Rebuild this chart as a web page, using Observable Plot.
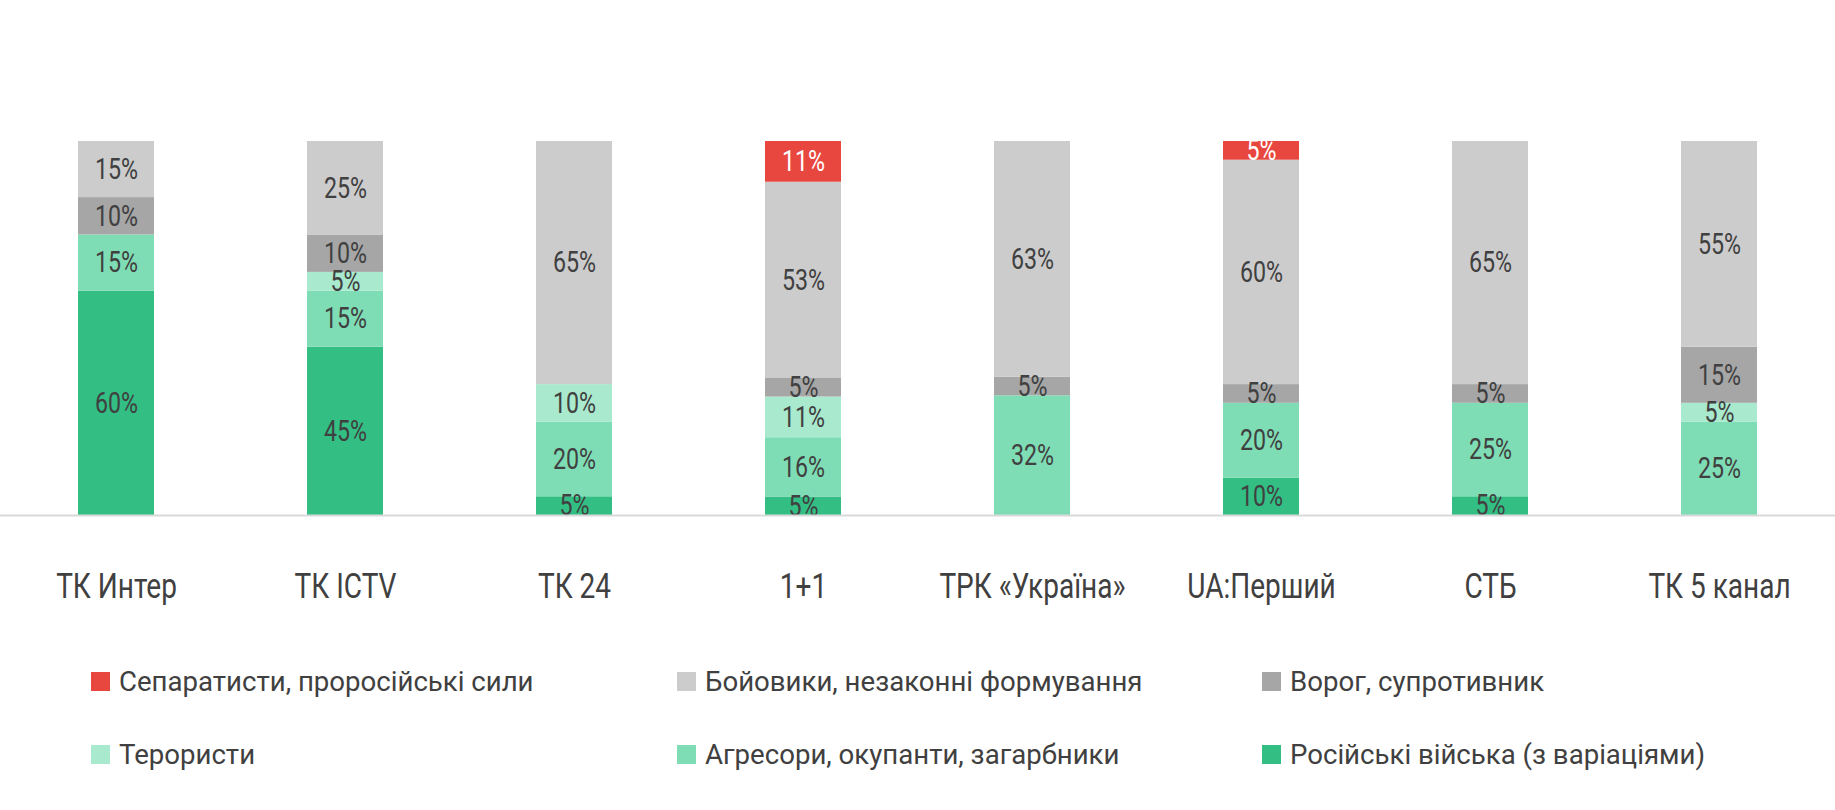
<!DOCTYPE html>
<html><head><meta charset="utf-8">
<script src="https://cdn.jsdelivr.net/npm/d3@7"></script>
<script src="https://cdn.jsdelivr.net/npm/@observablehq/plot@0.6"></script>
<style>
body{margin:0;background:#fff;font-family:Roboto,sans-serif;}
#chart svg{display:block;}
#legend{display:grid;grid-template-columns:586px 585px 573px;padding-left:91px;row-gap:39px;margin-top:45px;font-size:27.6px;line-height:34px;color:#404040;}
.item{white-space:nowrap;}
.sw{display:inline-block;width:19px;height:19px;margin-right:9px;}
</style></head><body>
<div id="chart"></div><div id="legend"></div>
<script>
const channels = ["ТК Интер","ТК ICTV","ТК 24","1+1","ТРК «Україна»","UA:Перший","СТБ","ТК 5 канал"];
// series, bottom to top of each bar
const series = [
  "Російські війська (з варіаціями)",
  "Агресори, окупанти, загарбники",
  "Терористи",
  "Ворог, супротивник",
  "Бойовики, незаконні формування",
  "Сепаратисти, проросійські сили"
];
const colors = ["#33be84","#7fddb5","#a9e9ce","#a6a6a6","#cccccc","#e8473f"];
const russian     = [60,45, 5, 5, 0,10, 5, 0];
const aggressors  = [15,15,20,16,32,20,25,25];
const terrorists  = [ 0, 5,10,11, 0, 0, 0, 5];
const enemy       = [10,10, 0, 5, 5, 5, 5,15];
const militants   = [15,25,65,53,63,60,65,55];
const separatists = [ 0, 0, 0,11, 0, 5, 0, 0];
const values = [russian, aggressors, terrorists, enemy, militants, separatists];

const data = [];
series.forEach((s, i) => channels.forEach((c, j) => {
  if (values[i][j] > 0) data.push({channel: c, series: s, value: values[i][j]});
}));

const stackOpts = {x: "channel", y: "value", z: "series", order: series, offset: "normalize"};

const chart = Plot.plot({
  width: 1835,
  height: 620,
  marginLeft: 0,
  marginRight: 0,
  marginTop: 141,
  marginBottom: 105,
  style: {fontFamily: "Roboto, sans-serif", background: "#fff"},
  x: {domain: channels, paddingInner: 0.668, paddingOuter: 0.334, axis: null},
  y: {axis: null},
  color: {domain: series, range: colors},
  marks: [
    Plot.barY(data, Plot.stackY({...stackOpts, fill: "series"})),
    Plot.text(data, Plot.stackY({
      ...stackOpts,
      text: d => d.value + "%",
      fill: d => d.series === series[5] ? "#ffffff" : "#404040",
      fontSize: 29
    })),
    Plot.ruleY([0], {stroke: "#d9d9d9", strokeWidth: 2}),
    Plot.axisX({tickSize: 0, tickPadding: 58, fontSize: 35, fill: "#404040", label: null})
  ]
});

// condensed look: narrow every svg text horizontally around its anchor
const sx = 0.8;
chart.querySelectorAll("text").forEach(t => {
  const tr = t.getAttribute("transform");
  if (tr) {
    t.setAttribute("transform", tr + ` scale(${sx},1)`);
  } else {
    const x = +(t.getAttribute("x") || 0), y = +(t.getAttribute("y") || 0);
    t.setAttribute("transform", `translate(${x},${y}) scale(${sx},1)`);
    t.setAttribute("x", 0); t.setAttribute("y", 0);
  }
});
document.getElementById("chart").appendChild(chart);

const legendOrder = series.slice().reverse();
const legend = document.getElementById("legend");
legendOrder.forEach(s => {
  const it = document.createElement("div");
  it.className = "item";
  const sw = document.createElement("span");
  sw.className = "sw";
  sw.style.background = colors[series.indexOf(s)];
  it.appendChild(sw);
  it.appendChild(document.createTextNode(s));
  legend.appendChild(it);
});
</script>
</body></html>
